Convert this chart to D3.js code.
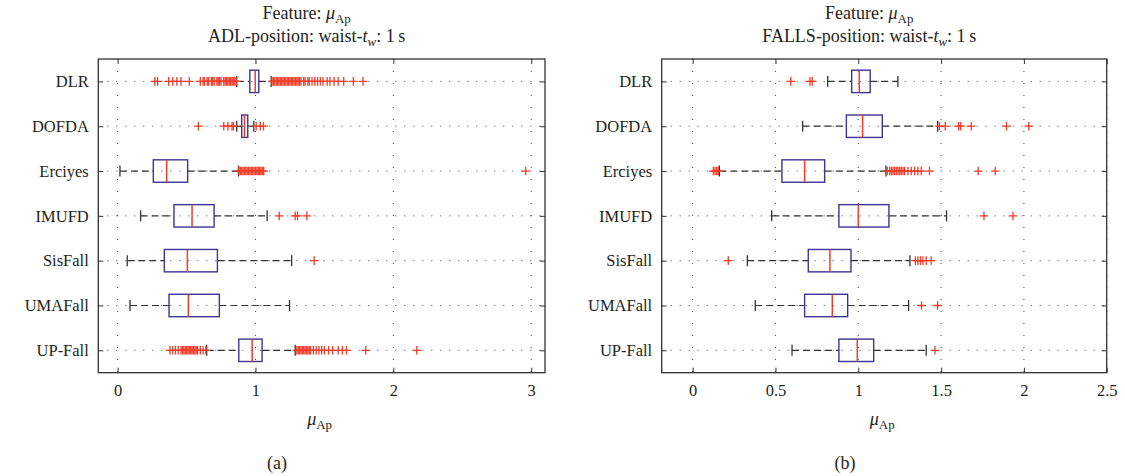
<!DOCTYPE html>
<html>
<head>
<meta charset="utf-8">
<script src="https://cdn.jsdelivr.net/npm/d3@7/dist/d3.min.js"></script>
<style>
  html, body { margin: 0; padding: 0; background: #fff; }
  svg { display: block; }
  text { font-family: "Liberation Serif", "Times New Roman", serif; fill: #231f20; }
</style>
</head>
<body>
<svg id="chart" width="1125" height="476"></svg>
<script>
// Datasets shown on the vertical axis (top to bottom)
const categories = ["DLR", "DOFDA", "Erciyes", "IMUFD", "SisFall", "UMAFall", "UP-Fall"];

// ADL windows: box-plot statistics of mu_Ap per dataset
const adlLow    = [0.864, 0.864, 0.017, 0.167, 0.070, 0.090, 0.646];
const adlQ1     = [0.959, 0.900, 0.259, 0.409, 0.339, 0.373, 0.879];
const adlMedian = [0.998, 0.920, 0.356, 0.540, 0.506, 0.513, 0.976];
const adlQ3     = [1.024, 0.944, 0.508, 0.700, 0.724, 0.738, 1.048];
const adlHigh   = [1.114, 0.988, 0.877, 1.085, 1.262, 1.247, 1.288];
const adlOutliers = [
  [0.27, 0.29, 0.37, 0.40, 0.43, 0.46, 0.52, 0.60, 0.62, 0.63, 0.65, 0.66, 0.68, 0.69, 0.70,
   0.72, 0.73, 0.74, 0.75, 0.77, 0.78, 0.79, 0.80, 0.81, 0.82, 0.83, 0.84, 0.85, 0.86,
   1.12, 1.13, 1.14, 1.15, 1.16, 1.17, 1.18, 1.19, 1.20, 1.21, 1.22, 1.23, 1.24, 1.25, 1.26,
   1.27, 1.28, 1.29, 1.30, 1.31, 1.32, 1.33, 1.35, 1.36, 1.38, 1.39, 1.41, 1.43, 1.45, 1.47,
   1.49, 1.52, 1.54, 1.57, 1.60, 1.64, 1.71, 1.78],
  [0.586, 0.77, 0.80, 0.83, 0.84, 1.005, 1.035, 1.058],
  [0.88, 0.89, 0.90, 0.91, 0.92, 0.93, 0.94, 0.95, 0.96, 0.97, 0.98, 0.99, 1.00, 1.01, 1.02,
   1.03, 1.04, 1.05, 1.06, 2.96],
  [1.172, 1.288, 1.305, 1.373],
  [1.426],
  [],
  [0.38, 0.40, 0.42, 0.44, 0.46, 0.47, 0.48, 0.49, 0.50, 0.51, 0.52, 0.53, 0.54, 0.55, 0.56,
   0.57, 0.58, 0.60, 0.62, 0.64, 1.30, 1.31, 1.32, 1.33, 1.34, 1.35, 1.36, 1.37, 1.38, 1.39,
   1.40, 1.42, 1.44, 1.46, 1.48, 1.50, 1.53, 1.56, 1.60, 1.63, 1.66, 1.80, 2.17]
];

// FALLS windows: box-plot statistics of mu_Ap per dataset
const fallLow    = [0.815, 0.664, 0.161, 0.477, 0.330, 0.378, 0.600];
const fallQ1     = [0.960, 0.928, 0.539, 0.883, 0.698, 0.676, 0.883];
const fallMedian = [1.006, 1.026, 0.676, 1.000, 0.829, 0.843, 0.994];
const fallQ3     = [1.072, 1.145, 0.797, 1.185, 0.956, 0.936, 1.093];
const fallHigh   = [1.239, 1.479, 1.167, 1.533, 1.312, 1.304, 1.410];
const fallOutliers = [
  [0.592, 0.708, 0.722],
  [1.490, 1.525, 1.606, 1.618, 1.682, 1.895, 2.030],
  [0.125, 0.135, 0.145, 0.155, 1.175, 1.19, 1.20, 1.21, 1.22, 1.23, 1.24, 1.25, 1.26, 1.27,
   1.28, 1.30, 1.32, 1.34, 1.36, 1.38, 1.43, 1.724, 1.827],
  [1.759, 1.934],
  [0.215, 1.345, 1.36, 1.375, 1.39, 1.41, 1.44],
  [1.382, 1.479],
  [1.463]
];

// Axis tick values
const adlTicks = [0, 1, 2, 3];
const fallTicks = [0, 0.5, 1, 1.5, 2, 2.5];
const adlTickLabels = ["0", "1", "2", "3"];
const fallTickLabels = ["0", "0.5", "1", "1.5", "2", "2.5"];

const svg = d3.select("#chart");
svg.append("rect").attr("width", 1125).attr("height", 476).attr("fill", "#fff");

const BOX = "#3a3596", RED = "#f03c28", INK = "#333";
const plotTop = 59, plotBottom = 372.7;

function buildStats(low, q1, med, q3, high, outl) {
  return categories.map((c, i) => ({
    name: c, low: low[i], q1: q1[i], med: med[i], q3: q3[i], high: high[i], out: outl[i]
  }));
}

function panel(cfg) {
  const x = d3.scaleLinear().domain(cfg.domain).range([cfg.left, cfg.right]);
  const y = d3.scalePoint().domain(categories).range([plotTop, plotBottom]).padding(0.5);
  const half = y.step() * 0.25;
  const g = svg.append("g");

  // dotted grid
  g.append("g").selectAll("line").data(cfg.ticks).join("line")
    .attr("x1", d => x(d)).attr("x2", d => x(d))
    .attr("y1", plotTop).attr("y2", plotBottom)
    .attr("stroke", "#444").attr("stroke-width", 1).attr("stroke-dasharray", "1,11");
  g.append("g").selectAll("line").data(categories).join("line")
    .attr("x1", cfg.left).attr("x2", cfg.right)
    .attr("y1", d => y(d)).attr("y2", d => y(d))
    .attr("stroke", "#444").attr("stroke-width", 1).attr("stroke-dasharray", "1,8");

  // axes with inward ticks on all four sides
  const fmt = (d, i) => cfg.tickLabels[i];
  const xb = g.append("g").attr("transform", `translate(0,${plotBottom})`)
    .call(d3.axisBottom(x).tickValues(cfg.ticks).tickFormat(fmt).tickSize(-5).tickPadding(12));
  const xt = g.append("g").attr("transform", `translate(0,${plotTop})`)
    .call(d3.axisTop(x).tickValues(cfg.ticks).tickFormat("").tickSize(-5));
  const yl = g.append("g").attr("transform", `translate(${cfg.left},0)`)
    .call(d3.axisLeft(y).tickSize(-5).tickPadding(9.5));
  const yr = g.append("g").attr("transform", `translate(${cfg.right},0)`)
    .call(d3.axisRight(y).tickFormat("").tickSize(-5));
  [xb, xt, yl, yr].forEach(a => {
    a.select(".domain").remove();
    a.selectAll(".tick line").attr("stroke", INK).attr("stroke-width", 1);
    a.selectAll(".tick text").attr("font-size", 16.5)
      .attr("font-family", '"Liberation Serif", "Times New Roman", serif').attr("fill", "#231f20");
  });

  // frame
  g.append("rect").attr("x", cfg.left).attr("y", plotTop)
    .attr("width", cfg.right - cfg.left).attr("height", plotBottom - plotTop)
    .attr("fill", "none").attr("stroke", INK).attr("stroke-width", 1.3);

  const stats = buildStats(...cfg.data);
  const rows = g.append("g").selectAll("g").data(stats).join("g");

  // whiskers (dashed) and caps
  rows.append("line").attr("x1", d => x(d.low)).attr("x2", d => x(d.q1))
    .attr("y1", d => y(d.name)).attr("y2", d => y(d.name))
    .attr("stroke", INK).attr("stroke-width", 1.2).attr("stroke-dasharray", "7,4");
  rows.append("line").attr("x1", d => x(d.q3)).attr("x2", d => x(d.high))
    .attr("y1", d => y(d.name)).attr("y2", d => y(d.name))
    .attr("stroke", INK).attr("stroke-width", 1.2).attr("stroke-dasharray", "7,4");
  ["low", "high"].forEach(k => {
    rows.append("line").attr("x1", d => x(d[k])).attr("x2", d => x(d[k]))
      .attr("y1", d => y(d.name) - 5.5).attr("y2", d => y(d.name) + 5.5)
      .attr("stroke", INK).attr("stroke-width", 1.3);
  });

  // boxes
  rows.append("rect").attr("x", d => x(d.q1)).attr("width", d => x(d.q3) - x(d.q1))
    .attr("y", d => y(d.name) - half).attr("height", half * 2)
    .attr("fill", "none").attr("stroke", BOX).attr("stroke-width", 1.4);
  // medians
  rows.append("line").attr("x1", d => x(d.med)).attr("x2", d => x(d.med))
    .attr("y1", d => y(d.name) - half).attr("y2", d => y(d.name) + half)
    .attr("stroke", RED).attr("stroke-width", 1.5);

  // outliers as '+' markers
  const s = 4.3;
  rows.each(function (d) {
    d3.select(this).selectAll("path.out").data(d.out).join("path").attr("class", "out")
      .attr("d", v => `M${x(v) - s},${y(d.name)}H${x(v) + s}M${x(v)},${y(d.name) - s}V${y(d.name) + s}`)
      .attr("stroke", RED).attr("stroke-width", 1.3).attr("fill", "none");
  });

  // title (two lines)
  const tc = (cfg.left + cfg.right) / 2 - 15;
  const t1 = g.append("text").attr("x", tc).attr("y", 19).attr("text-anchor", "middle").attr("font-size", 18);
  t1.append("tspan").text("Feature: ");
  t1.append("tspan").attr("font-style", "italic").text("\u03bc");
  t1.append("tspan").attr("font-size", 13).attr("dy", 4).text("Ap");
  const t2 = g.append("text").attr("x", tc).attr("y", 42).attr("text-anchor", "middle").attr("font-size", 18);
  t2.append("tspan").text(cfg.kind + "-position: waist-");
  t2.append("tspan").attr("font-style", "italic").text("t");
  t2.append("tspan").attr("font-style", "italic").attr("font-size", 13).attr("dy", 4).text("w");
  t2.append("tspan").attr("dy", -4).text(": 1\u2009s");

  // x-axis label
  const xl = g.append("text").attr("x", (cfg.left + cfg.right) / 2 - 2).attr("y", 425)
    .attr("text-anchor", "middle").attr("font-size", 18);
  xl.append("tspan").attr("font-style", "italic").text("\u03bc");
  xl.append("tspan").attr("font-size", 13).attr("dy", 4).text("Ap");

  // sub-figure caption
  g.append("text").attr("x", cfg.caption).attr("y", 469).attr("text-anchor", "middle")
    .attr("font-size", 18).text(cfg.letter);
}

panel({
  kind: "ADL", left: 98.3, right: 545, domain: [-0.14, 3.1],
  ticks: adlTicks, tickLabels: adlTickLabels,
  data: [adlLow, adlQ1, adlMedian, adlQ3, adlHigh, adlOutliers],
  caption: 277, letter: "(a)"
});
panel({
  kind: "FALLS", left: 661.7, right: 1106.7, domain: [-0.187, 2.5],
  ticks: fallTicks, tickLabels: fallTickLabels,
  data: [fallLow, fallQ1, fallMedian, fallQ3, fallHigh, fallOutliers],
  caption: 845, letter: "(b)"
});
</script>
</body>
</html>
